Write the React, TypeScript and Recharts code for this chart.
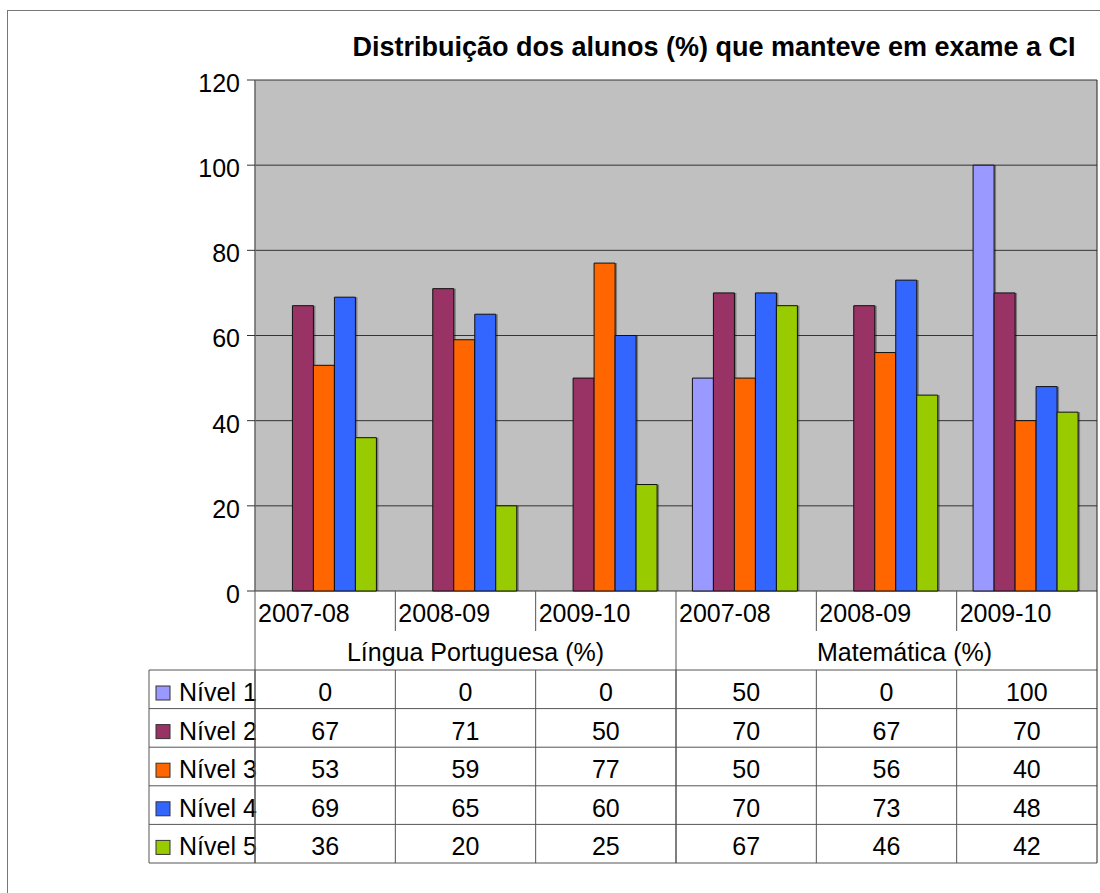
import { Bar, BarChart, CartesianGrid, Rectangle, XAxis, YAxis } from "recharts"

const categories = ["2007-08", "2008-09", "2009-10", "2007-08", "2008-09", "2009-10"]
const groups = ["Língua Portuguesa (%)", "Matemática (%)"]
const seriesNames = ["Nível 1", "Nível 2", "Nível 3", "Nível 4", "Nível 5"]
const seriesColors = ["#9999FF", "#993366", "#FF6600", "#3366FF", "#99CC00"]
const nivel1 = [0, 0, 0, 50, 0, 100]
const nivel2 = [67, 71, 50, 70, 67, 70]
const nivel3 = [53, 59, 77, 50, 56, 40]
const nivel4 = [69, 65, 60, 70, 73, 48]
const nivel5 = [36, 20, 25, 67, 46, 42]
const yTicks = [0, 20, 40, 60, 80, 100, 120]
const title = "Distribuição dos alunos (%) que manteve em exame a CI"

const seriesValues = [nivel1, nivel2, nivel3, nivel4, nivel5]

const data = categories.map((c, i) => {
  const row: any = { key: `${i}-${c}` }
  seriesValues.forEach((vals, s) => {
    row[`n${s + 1}`] = vals[i]
  })
  return row
})

// layout
const W = 1100
const H = 893
const PLOT_LEFT = 255
const PLOT_RIGHT = 1097
const PLOT_TOP = 80
const PLOT_BOTTOM = 591
const CAT_ROW_BOTTOM = 631
const TABLE_TOP = 670
const TABLE_BOTTOM = 863
const TABLE_LEFT = 149
const FONT = "'Liberation Sans', Arial, sans-serif"
const FS = 25
const LINE = "#555"
const groupNudge = [10, 18]

const colW = (PLOT_RIGHT - PLOT_LEFT) / categories.length
const rowH = (TABLE_BOTTOM - TABLE_TOP) / seriesNames.length

function XTick(props: any) {
  const { x, payload } = props
  const i = payload.index
  const left = x - colW / 2
  const right = x + colW / 2
  const upperLineBottom = i === 3 || i === 0 ? TABLE_BOTTOM : CAT_ROW_BOTTOM
  return (
    <g fontFamily={FONT} fill="#000">
      {i === 0 && (
        <g>
          <line x1={TABLE_LEFT} y1={TABLE_TOP} x2={TABLE_LEFT} y2={TABLE_BOTTOM} stroke={LINE} />
          {seriesNames.map((name, s) => {
            const top = TABLE_TOP + s * rowH
            return (
              <g key={name}>
                <line x1={TABLE_LEFT} y1={top} x2={PLOT_RIGHT} y2={top} stroke={LINE} />
                <rect x={156} y={top + 16} width={14} height={14} fill={seriesColors[s]} stroke="#333" />
                <text x={179} y={top + 31} fontSize={FS}>
                  {name}
                </text>
              </g>
            )
          })}
          <line x1={TABLE_LEFT} y1={TABLE_BOTTOM} x2={PLOT_RIGHT} y2={TABLE_BOTTOM} stroke={LINE} />
        </g>
      )}
      <line x1={left} y1={PLOT_BOTTOM} x2={left} y2={upperLineBottom} stroke={LINE} />
      <line x1={left} y1={TABLE_TOP} x2={left} y2={TABLE_BOTTOM} stroke={LINE} />
      {i === categories.length - 1 && (
        <line x1={right} y1={PLOT_TOP} x2={right} y2={TABLE_BOTTOM} stroke="#222" />
      )}
      <text x={left + 3} y={622} fontSize={FS}>
        {categories[i]}
      </text>
      {(i === 1 || i === 4) && (
        <text x={x + groupNudge[i === 1 ? 0 : 1]} y={661} fontSize={FS} textAnchor="middle">
          {groups[i === 1 ? 0 : 1]}
        </text>
      )}
      {seriesValues.map((vals, s) => (
        <text key={s} x={x} y={TABLE_TOP + s * rowH + 31} fontSize={FS} textAnchor="middle">
          {vals[i]}
        </text>
      ))}
    </g>
  )
}

function YTick(props: any) {
  const { x, y, payload } = props
  return (
    <text x={x} y={y + 3} dy="0.355em" textAnchor="end" fontSize={FS} fontFamily={FONT} fill="#000">
      {payload.value}
    </text>
  )
}

// bar with a small drop shadow on its right side
function ShadowBar(props: any) {
  const { x, y, width, height, fill } = props
  if (!height || height <= 0) return null
  return (
    <g>
      <rect x={x + 2} y={y} width={width} height={height} fill="#000" fillOpacity={0.35} />
      <Rectangle x={x} y={y} width={width} height={height} fill={fill} stroke="#111" strokeWidth={1} />
    </g>
  )
}

export default function App() {
  return (
    <div style={{ position: "absolute", left: 0, top: 0, width: W, height: H, overflow: "hidden", background: "#fff" }}>
      <div
        style={{
          position: "absolute",
          left: 7,
          top: 10,
          width: W,
          height: H,
          border: "1px solid #777",
        }}
      />
      <div
        style={{
          position: "absolute",
          left: 714 - 450,
          top: 34,
          width: 900,
          textAlign: "center",
          fontFamily: FONT,
          fontWeight: "bold",
          fontSize: 27,
          lineHeight: "27px",
          color: "#000",
        }}
      >
        {title}
      </div>
      <div style={{ position: "absolute", left: 0, top: 0 }}>
        <BarChart
          width={W}
          height={H}
          data={data}
          margin={{ top: PLOT_TOP, right: W - PLOT_RIGHT, left: 0, bottom: 0 }}
          barCategoryGap="11.7%"
          barGap={0}
        >
          <CartesianGrid vertical={false} stroke="#333" fill="#C0C0C0" fillOpacity={1} />
          <XAxis
            dataKey="key"
            height={H - PLOT_BOTTOM}
            axisLine={false}
            tickLine={false}
            tick={<XTick />}
            interval={0}
          />
          <YAxis
            width={PLOT_LEFT}
            domain={[0, 120]}
            ticks={yTicks}
            axisLine={{ stroke: "#666", strokeWidth: 1.5 }}
            tickLine={{ stroke: "#333" }}
            tickSize={8}
            tickMargin={7}
            tick={<YTick />}
          />
          {seriesNames.map((name, s) => (
            <Bar
              key={name}
              dataKey={`n${s + 1}`}
              name={name}
              fill={seriesColors[s]}
              shape={<ShadowBar />}
              isAnimationActive={false}
            />
          ))}
        </BarChart>
      </div>
    </div>
  )
}
